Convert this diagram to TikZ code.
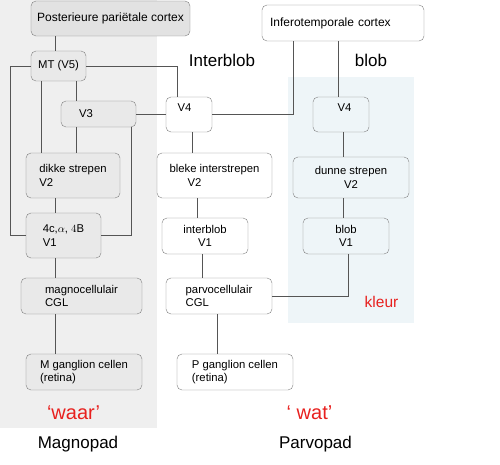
\documentclass[tikz,border=0pt]{standalone}
\usepackage{fontspec}
\setmainfont{Liberation Sans}
\usepackage{tikz}
\definecolor{magnobg}{HTML}{EFEFEF}
\definecolor{blobbg}{HTML}{EEF5F8}
\definecolor{grijsvul}{HTML}{E9E9E9}
\definecolor{topvul}{HTML}{E2E2E2}
\definecolor{randlijn}{HTML}{7F7F7F}
\definecolor{draad}{HTML}{555555}
\definecolor{rood}{HTML}{E8201E}

\begin{document}
\begin{tikzpicture}[x=1pt, y=-1pt,
    vak/.style={draw=randlijn, rounded corners=5pt, fill=white, inner sep=2pt,
        align=left, font=\fontsize{11.3}{13.5}\selectfont},
    grijsvak/.style={vak, fill=grijsvul},
    blauwvak/.style={vak, fill=blobbg},
    padlabel/.style={font=\fontsize{17}{19}\selectfont},
    roodlabel/.style={text=rood, font=\fontsize{20}{22}\selectfont}]
    \useasboundingbox (0,0) rectangle (500,465);
    % achtergronden
    \fill[magnobg] (0,0) rectangle (157,428);
    \fill[blobbg] (288,77) rectangle (414,323);

    % magnopad
    \node[grijsvak, fill=topvul, font=\fontsize{12}{14}\selectfont, minimum width=159, minimum height=35] (post) at (110.5,18.5) {Posterieure pariëtale cortex};
    \node[grijsvak, minimum width=55, minimum height=30] (mt) at (58.5,66) {MT (V5)};
    \node[grijsvak, minimum width=75, minimum height=26] (v3) at (98.5,114) {V3\hspace*{25pt}};
    \node[grijsvak, minimum width=94, minimum height=45] (dikke) at (73,175.5) {dikke strepen\\V2};
    \node[grijsvak, minimum width=75, minimum height=45] (v1m) at (63.5,235.5) {4c,$\alpha$, $4\mathrm{B}$\\V1};
    \node[grijsvak, minimum width=121, minimum height=36] (mag) at (81.5,296) {magnocellulair\\CGL};
    \node[grijsvak, minimum width=116, minimum height=36] (mgang) at (84,372) {M ganglion cellen\\(retina)};

    % parvopad
    \node[vak, font=\fontsize{12}{14}\selectfont, text width=146, inner xsep=8pt, minimum height=36] (infero) at (343,23) {Inferotemporale cortex};
    \node[vak, text depth=13pt, minimum width=46, minimum height=35] (v4m) at (189,114.5) {V4\hspace*{9pt}};
    \node[vak, minimum width=115, minimum height=45] (bleke) at (214.5,175.5) {bleke interstrepen\\\hspace*{18pt}V2};
    \node[vak, align=center, minimum width=86, minimum height=36] (interblob) at (205,236) {interblob\\V1};
    \node[vak, minimum width=106, minimum height=36] (parvo) at (219,296) {parvocellulair\\CGL};
    \node[vak, minimum width=116, minimum height=36] (pgang) at (235,372) {P ganglion cellen\\(retina)};

    % blob
    \node[blauwvak, text depth=13pt, minimum width=56, minimum height=35] (v4b) at (341,114.5) {\hspace*{7pt}V4};
    \node[blauwvak, align=center, minimum width=116, minimum height=41] (dunne) at (351,177.5) {dunne strepen\\V2};
    \node[blauwvak, align=center, minimum width=86, minimum height=36] (blobv1) at (346,236) {blob\\V1};

    % teksten
    \node[padlabel] (interbloblabel) at (222,60) {Interblob};
    \node[padlabel] (bloblabel) at (371,60) {blob};
    \node[text=rood, font=\fontsize{15.5}{17}\selectfont] (kleur) at (381.5,302) {kleur};
    \node[roodlabel] (waar) at (73.5,413) {‘waar’};
    \node[roodlabel] (wat) at (309.5,413) {‘ wat’};
    \node[padlabel] (magnopad) at (78,444) {Magnopad};
    \node[padlabel] (parvopad) at (315.5,444) {Parvopad};

    % verbindingen
    \begin{scope}[draw=draad, line width=0.7pt]
    \draw (55,0 |- mt.north) -- (55,0 |- post.south);
    \draw (mt.west) -- (10,0 |- mt.west) |- (v1m.west);
    \draw (41,0 |- mt.south) -- (41,0 |- dikke.north);
    \draw (76,0 |- mt.south) -- (76,0 |- v3.north);
    \draw (mt.east) -| (177,0 |- v4m.north);
    \draw (v3.east) -- (v3.east -| v4m.west);
    \draw (76,0 |- v3.south) -- (76,0 |- dikke.north);
    \draw (131,0 |- v3.south) |- (v1m.east);
    \draw (55,0 |- dikke.south) -- (55,0 |- v1m.north);
    \draw (55,0 |- v1m.south) -- (55,0 |- mag.north);
    \draw (55,0 |- mag.south) -- (55,0 |- mgang.north);
    \draw (v4m.east) -| (293,0 |- infero.south);
    \draw (338,0 |- infero.south) -- (338,0 |- v4b.north);
    \draw (192,0 |- v4m.south) -- (192,0 |- bleke.north);
    \draw (197,0 |- bleke.south) -- (197,0 |- interblob.north);
    \draw (202,0 |- interblob.south) -- (202,0 |- parvo.north);
    \draw (217,0 |- parvo.south) -- (217,0 |- pgang.north);
    \draw (343,0 |- v4b.south) -- (343,0 |- dunne.north);
    \draw (343,0 |- dunne.south) -- (343,0 |- blobv1.north);
    \draw (348,0 |- blobv1.south) |- (parvo.east);
    \end{scope}
\end{tikzpicture}
\end{document}
